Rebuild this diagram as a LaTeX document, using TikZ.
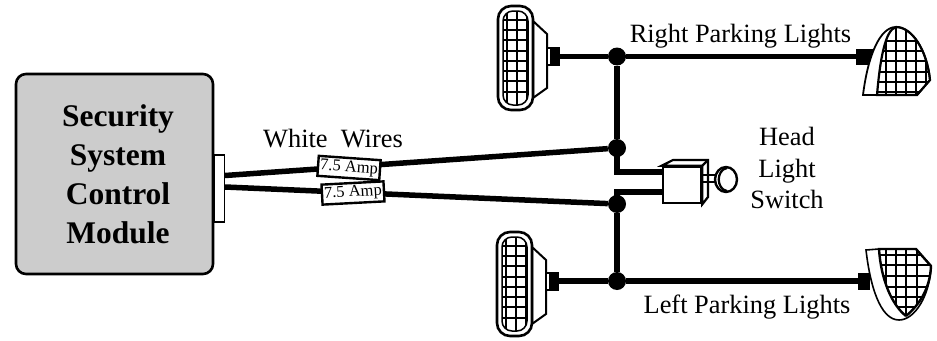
\documentclass[tikz,border=0pt]{standalone}
\usepackage{fontspec}
\setmainfont{Liberation Serif}
\usetikzlibrary{calc,shapes.geometric}
\definecolor{modgray}{gray}{0.8}
\tikzset{
  wire/.style={line width=5.5pt},
  junction/.style={circle,fill=black,inner sep=0pt,minimum size=18pt},
  fuse/.style={draw,fill=white,line width=2.4pt,minimum width=62pt,minimum height=20pt,inner sep=0pt,font=\fontsize{16.5}{17}\selectfont},
  textlabel/.style={font=\fontsize{26.4}{28}\selectfont,inner sep=0pt},
  plug/.style={fill=black,inner sep=0pt},
  gridline/.style={line width=1.5pt},
  lampline/.style={line width=2pt},
}
% left-hand lamp: #1 = origin (top-left corner of the lens), #2 = plug name, #3 = plug height on the lamp
\newcommand{\sidelamp}[3]{
  \begin{scope}[shift={(#1)}]
    \draw[lampline,fill=white] (35,15) -- (49,28) -- (49,82) -- (35,92) -- cycle;
    \draw[line width=2.6pt,fill=white,rounded corners=13pt] (0,0) rectangle (35,104);
    \draw[line width=1.5pt,rounded corners=10pt] (5,5) rectangle (30,99);
    \begin{scope}
      \clip[rounded corners=10pt] (5,5) rectangle (30,99);
      \foreach \y in {14,24,34,45,55,65,75,86}{\draw[gridline] (5,\y) -- (30,\y);}
      \foreach \x in {9,19,29}{\draw[gridline] (\x,5) -- (\x,99);}
    \end{scope}
    \node[plug,minimum width=13pt,minimum height=19pt,anchor=west] (#2) at (49,#3) {};
    \fill[white] (49.5,{#3-7.5}) rectangle (51.5,{#3+7.5});
  \end{scope}
}
\begin{document}
\begin{tikzpicture}[x=1pt,y=-1pt]
\useasboundingbox (0,0) rectangle (937,340);
% module
\node[draw,fill=modgray,line width=2.6pt,rounded corners=10pt,minimum width=197pt,minimum height=200pt,inner sep=0pt] (module) at (114.5,174) {};
\node[inner sep=0pt,align=center,anchor=base,font=\fontsize{31.5}{39}\selectfont\bfseries] (modtext) at (118,243)
  {Security\\System\\Control\\Module};
\node[draw,fill=white,line width=1.8pt,minimum width=10pt,minimum height=67pt,inner sep=0pt] (conn) at (219.5,188.5) {};
\coordinate (wa) at (225,175.5);
\coordinate (wb) at (225,187);
% junctions
\node[junction] (j1) at (617,56.5) {};
\node[junction] (j2) at (617,148) {};
\node[junction] (j3) at (617,204) {};
\node[junction] (j4) at (617,281) {};
% switch
\coordinate (ta) at (663,172);
\coordinate (tb) at (663,192);
\node[draw,fill=white,line width=2.6pt,minimum width=38pt,minimum height=36pt,inner sep=0pt] (sw) at (682,185) {};
\draw[line width=2.2pt,fill=white] (sw.north west) -- (673,160) -- (708,160) -- (708,197) -- (sw.south east) -- (sw.north east) -- cycle;
\draw[line width=2.2pt] (sw.north east) -- (708,160);
\draw[line width=1.5pt] (703,175) -- (716,175) (703,182) -- (716,182);
\node[draw,ellipse,line width=2.4pt,fill=white,minimum width=22pt,minimum height=25pt,inner sep=0pt] (knob) at (726,179.5) {};
\draw[line width=2.2pt] (727,168) .. controls (716,170) and (716,189) .. (727,191);
% wires
\draw[wire] (wa) -- (j2);
\draw[wire] (wb) -- (j3);
\draw[wire] (j1) -- (j2);
\draw[wire] (j2.center) |- (ta);
\draw[wire] (j3.center) |- (tb);
\draw[wire] (j3) -- (j4);
% fuses
\node[fuse,rotate=-4] (f1) at (349,168) {7.5 Amp};
\node[fuse,rotate=3] (f2) at (353,193) {7.5 Amp};
% side lamps
\sidelamp{498,6}{pa}{50.5}
\sidelamp{497,232}{pb}{49}
\draw[wire] (pa.east) -- (j1);
\draw[wire] (pb.east) -- (j4);
% right lamps
\node[plug,minimum width=19pt,minimum height=16pt] (pc) at (865.5,56.5) {};
\node[plug,minimum width=12pt,minimum height=17pt] (pd) at (864,281) {};
\draw[wire] (j1) -- (pc.west);
\draw[wire] (j4) -- (pd.west);
% top right lamp
\draw[line width=1.8pt,fill=white] (877,95) -- (863,95) .. controls (868,55) and (880,27) .. (896,27) .. controls (912,27) and (927,50) .. (930,80) -- (917,95) -- cycle;
\begin{scope}
  \clip (877,95) .. controls (880,60) and (885,30) .. (896,27) .. controls (912,27) and (927,50) .. (930,80) -- (917,95) -- cycle;
  \foreach \y in {41,51,61,72,82,92}{\draw[gridline] (870,\y) -- (935,\y);}
  \foreach \x in {886,896,906,916,926}{\draw[gridline] (\x,20) -- (\x,100);}
\end{scope}
\draw[line width=2.2pt] (877,95) .. controls (880,60) and (885,30) .. (896,27) .. controls (912,27) and (927,50) .. (930,80) -- (917,95) -- cycle;
% bottom right lamp
\draw[line width=1.6pt,fill=white] (866,250) -- (879,249) -- (916,249) -- (931,266) .. controls (930,295) and (915,320) .. (899,320) .. controls (880,320) and (870,285) .. (866,250) -- cycle;
\begin{scope}
  \clip (879,249) -- (916,249) -- (931,266) .. controls (930,290) and (918,306) .. (906,316) .. controls (892,305) and (881,280) .. (879,249) -- cycle;
  \foreach \y in {255,265,276,287,297,307}{\draw[gridline] (870,\y) -- (935,\y);}
  \foreach \x in {886,896,906,917}{\draw[gridline] (\x,245) -- (\x,322);}
\end{scope}
\draw[line width=2.4pt] (906,316) .. controls (892,305) and (881,280) .. (879,249) -- (916,249) -- (931,266) .. controls (930,290) and (918,306) .. (906,316);
% labels
\node[textlabel,anchor=base] (l1) at (740.5,42) {Right Parking Lights};
\node[textlabel,anchor=base] (l2) at (747,313) {Left Parking Lights};
\node[textlabel,anchor=base] (l3) at (333,147) {White\ \ Wires};
\node[textlabel,anchor=base] (l4a) at (787,145) {Head};
\node[textlabel,anchor=base] (l4b) at (787,177) {Light};
\node[textlabel,anchor=base] (l4c) at (787,208) {Switch};
\end{tikzpicture}
\end{document}
